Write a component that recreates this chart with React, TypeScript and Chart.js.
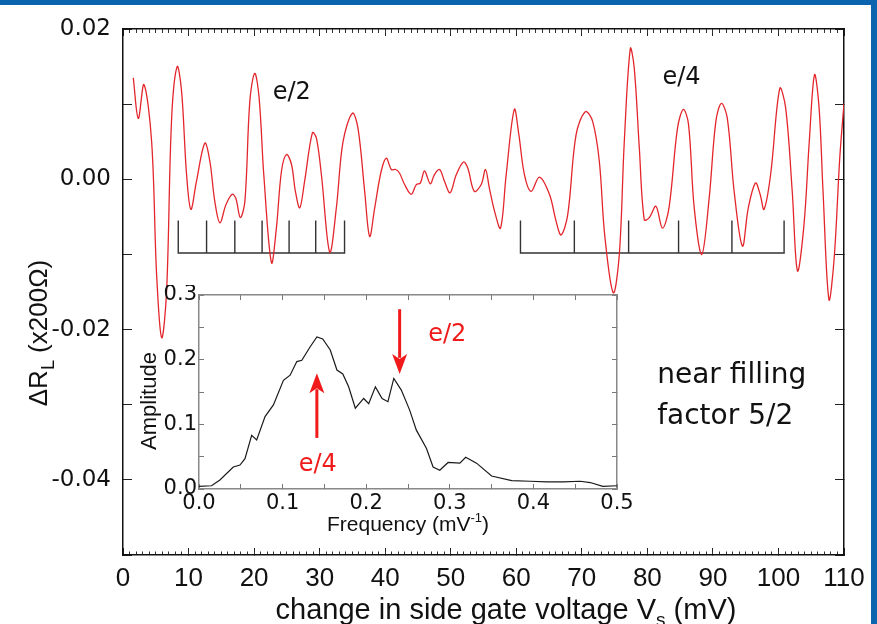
import React, { useEffect, useRef } from 'react';
import { Chart, registerables } from 'chart.js';

Chart.register(...registerables);

// ---------------- data ----------------
const gateVoltage = [
  1.57, 2.33, 3.2, 4.37, 5.13, 5.9, 6.65, 7.42, 8.27, 8.94, 9.7, 10.36, 11.2, 12.49, 13.25, 14.0,
  14.78, 15.7, 16.65, 17.2, 17.9, 18.6, 19.35, 20.1, 20.77, 21.48, 22.65, 23.4, 24.18, 24.94, 25.7,
  26.3, 26.97, 27.7, 28.9, 29.5, 30.27, 31.54, 32.55, 33.57, 35.0, 35.85, 36.87, 37.63, 38.4, 39.4,
  40.18, 40.94, 41.6, 42.2, 42.96, 43.98, 44.75, 45.36, 46.0, 46.88, 47.5, 48.3, 49.06, 49.9, 50.84,
  51.95, 52.6, 53.6, 54.65, 55.3, 55.9, 56.7, 57.6, 58.46, 59.7, 60.4, 61.25, 62.27, 63.53, 65.06,
  66.08, 66.84, 67.85, 69.12, 70.54, 71.65, 72.67, 73.5, 74.8, 75.72, 76.48, 77.4, 78.0, 78.77,
  79.53, 80.3, 81.3, 82.3, 83.3, 84.6, 85.5, 86.28, 87.15, 88.3, 89.43, 90.45, 91.3, 92.2, 93.24,
  94.5, 95.4, 96.5, 97.2, 97.8, 98.8, 100.2, 101.1, 102.1, 102.9, 103.9, 104.7, 105.5, 106.2, 106.8,
  107.7, 108.5, 109.35, 110.0,
];
const deltaRL = [
  0.0135, 0.0081, 0.0126, 0.005, -0.0127, -0.0211, -0.0149, 0.0081, 0.015, 0.0117, 0.0006, -0.004,
  -0.0003, 0.0048, 0.0024, -0.0029, -0.0058, -0.0034, -0.002, -0.0025, -0.0051, -0.0029, 0.0104,
  0.0141, 0.0108, 0.0006, -0.0111, -0.0065, 0.0011, 0.0033, 0.002, -0.0016, -0.0038, -0.0003, 0.0062,
  0.0055, 0.0006, -0.0097, -0.0038, 0.005, 0.0088, 0.0068, -0.0016, -0.0076, -0.0038, 0.0011, 0.0028,
  0.0013, 0.0013, 0.0008, -0.0007, -0.002, -0.0007, -0.0005, 0.0011, -0.0006, 0.0006, 0.0013, -0.0003,
  -0.0018, 0.0006, 0.0023, 0.0015, -0.0016, -0.0007, 0.0013, -0.0012, -0.0043, -0.0065, 0.0006,
  0.0093, 0.0059, 0.0006, -0.0016, 0.0003, -0.002, -0.0056, -0.0074, -0.0047, 0.0059, 0.009, 0.0077,
  0.0024, -0.0075, -0.0151, -0.01, 0.005, 0.0174, 0.0148, 0.0042, -0.0054, -0.0051, -0.0036, -0.0065,
  -0.0038, 0.0068, 0.0093, 0.0073, -0.0038, -0.01, -0.0025, 0.0077, 0.0101, 0.0081, -0.0016, -0.0089,
  -0.0038, -0.0005, -0.002, -0.004, 0.0006, 0.0121, 0.0095, -0.0016, -0.0122, -0.006, 0.005, 0.0139,
  0.0095, -0.0016, -0.016, -0.0105, 0.0028, 0.0101,
];

const frequency = [
  0.0, 0.015, 0.025, 0.041, 0.049, 0.055, 0.063, 0.069, 0.079, 0.089, 0.101, 0.109, 0.117, 0.123,
  0.133, 0.141, 0.148, 0.157, 0.165, 0.172, 0.179, 0.187, 0.197, 0.203, 0.211, 0.219, 0.226, 0.233,
  0.242, 0.252, 0.26, 0.272, 0.28, 0.288, 0.298, 0.312, 0.319, 0.332, 0.35, 0.374, 0.396, 0.416,
  0.436, 0.456, 0.468, 0.483, 0.5,
];
const amplitude = [
  0.004, 0.005, 0.014, 0.034, 0.037, 0.047, 0.083, 0.076, 0.112, 0.13, 0.168, 0.176, 0.197, 0.199,
  0.22, 0.235, 0.232, 0.215, 0.184, 0.178, 0.158, 0.125, 0.14, 0.132, 0.158, 0.14, 0.135, 0.171,
  0.153, 0.122, 0.091, 0.063, 0.034, 0.029, 0.041, 0.04, 0.049, 0.04, 0.02, 0.013, 0.012, 0.011,
  0.011, 0.012, 0.01, 0.004, 0.005,
];

// period combs drawn under the trace
const e2CombPositions = [8.43, 12.75, 17.06, 21.22, 25.34, 29.4, 33.8];
const e4CombPositions = [60.64, 68.86, 77.14, 84.76, 92.9, 100.86];
const combTopValue = -0.0055;
const combBaseValue = -0.0098;

// tick labels
const mainYTickLabels = ['0.02', '0.00', '-0.02', '-0.04'];
const insetTickLabels = ['0.0', '0.1', '0.2', '0.3', '0.4', '0.5'];

// inset arrows: [frequency, start amplitude, tip amplitude]
const e4Arrow = [0.141, 0.079, 0.179];
const e2Arrow = [0.24, 0.278, 0.178];

// ---------------- styling ----------------
const FONT_SANS = "'Liberation Sans', Arial, sans-serif";
const FONT_WIDE = "'DejaVu Sans', 'Liberation Sans', sans-serif";
const FONT_NARROW = "'Liberation Sans Narrow', 'Liberation Sans', Arial, sans-serif";
const RED = '#e3262c';
const BLUE = '#0a64ae';

function combPoints(ticks: number[]) {
  const pts: { x: number; y: number }[] = [];
  ticks.forEach((t, i) => {
    if (i > 0) pts.push({ x: t, y: combBaseValue });
    pts.push({ x: t, y: combTopValue });
    pts.push({ x: t, y: combBaseValue });
  });
  return pts;
}

type Part = { text: string; size: number; dy: number };
function drawRich(ctx: CanvasRenderingContext2D, parts: Part[], family: string, x: number, y: number) {
  const widths = parts.map((p) => {
    ctx.font = `${p.size}px ${family}`;
    return ctx.measureText(p.text).width;
  });
  const total = widths.reduce((a, b) => a + b, 0);
  let cx = x - total / 2;
  ctx.textAlign = 'left';
  ctx.textBaseline = 'alphabetic';
  parts.forEach((p, i) => {
    ctx.font = `${p.size}px ${family}`;
    ctx.fillText(p.text, cx, y + p.dy);
    cx += widths[i];
  });
}

function drawArrow(ctx: CanvasRenderingContext2D, x: number, y0: number, y1: number) {
  const dir = y1 > y0 ? 1 : -1;
  const headLen = 20;
  const half = 7.5;
  ctx.beginPath();
  ctx.moveTo(x, y0);
  ctx.lineTo(x, y1 - dir * headLen * 0.8);
  ctx.stroke();
  ctx.beginPath();
  ctx.moveTo(x, y1);
  ctx.lineTo(x - half, y1 - dir * headLen);
  ctx.lineTo(x, y1 - dir * headLen * 0.75);
  ctx.lineTo(x + half, y1 - dir * headLen);
  ctx.closePath();
  ctx.fill();
}

// fix an axis box to an exact size and remove its label overflow padding
function fixSize(horizontal: boolean, size: number) {
  return (s: any) => {
    if (horizontal) s.height = size;
    else s.width = size;
    s.paddingTop = 0;
    s.paddingBottom = 0;
    s.paddingLeft = 0;
    s.paddingRight = 0;
  };
}

const mainDecor = {
  id: 'mainDecor',
  afterDraw(chart: any) {
    const ctx: CanvasRenderingContext2D = chart.ctx;
    const xs = chart.scales.x;
    const ys = chart.scales.y;
    ctx.save();
    ctx.fillStyle = '#111';
    ctx.textBaseline = 'middle';
    ctx.textAlign = 'center';
    ctx.font = `24px ${FONT_WIDE}`;
    ctx.fillText('e/2', xs.getPixelForValue(25.75), ys.getPixelForValue(0.01155));
    ctx.fillText('e/4', xs.getPixelForValue(85.2), ys.getPixelForValue(0.01345));
    ctx.textAlign = 'left';
    ctx.font = `28px ${FONT_WIDE}`;
    ctx.fillText('near filling', xs.getPixelForValue(81.5), ys.getPixelForValue(-0.0262));
    ctx.fillText('factor 5/2', xs.getPixelForValue(81.5), ys.getPixelForValue(-0.0316));

    // x axis title
    drawRich(
      ctx,
      [
        { text: 'change in side gate voltage V', size: 29, dy: 0 },
        { text: 's', size: 19, dy: 7 },
        { text: ' (mV)', size: 29, dy: 0 },
      ],
      FONT_SANS,
      506,
      619
    );
    // y axis title (rotated)
    ctx.save();
    ctx.translate(47, 333);
    ctx.rotate(-Math.PI / 2);
    drawRich(
      ctx,
      [
        { text: 'ΔR', size: 26, dy: 0 },
        { text: 'L', size: 18, dy: 7 },
        { text: ' (x200Ω)', size: 26, dy: 0 },
      ],
      FONT_SANS,
      0,
      0
    );
    ctx.restore();
    ctx.restore();
  },
};

const insetDecor = {
  id: 'insetDecor',
  beforeDraw(chart: any) {
    const { ctx, chartArea } = chart;
    ctx.save();
    ctx.fillStyle = '#ffffff';
    ctx.fillRect(chartArea.left, chartArea.top, chartArea.right - chartArea.left, chartArea.bottom - chartArea.top);
    ctx.restore();
  },
  afterDraw(chart: any) {
    const ctx: CanvasRenderingContext2D = chart.ctx;
    const xs = chart.scales.x;
    const ys = chart.scales.y;
    ctx.save();
    ctx.strokeStyle = '#f01a1a';
    ctx.fillStyle = '#f01a1a';
    ctx.lineWidth = 3;
    [e4Arrow, e2Arrow].forEach((a) => {
      drawArrow(ctx, xs.getPixelForValue(a[0]), ys.getPixelForValue(a[1]), ys.getPixelForValue(a[2]));
    });
    ctx.font = `24px ${FONT_WIDE}`;
    ctx.textAlign = 'center';
    ctx.textBaseline = 'middle';
    ctx.fillText('e/4', xs.getPixelForValue(0.142), ys.getPixelForValue(0.037));
    ctx.fillText('e/2', xs.getPixelForValue(0.297), ys.getPixelForValue(0.238));

    ctx.fillStyle = '#111';
    drawRich(
      ctx,
      [
        { text: 'Frequency (mV', size: 21, dy: 0 },
        { text: '-1', size: 13, dy: -9 },
        { text: ')', size: 21, dy: 0 },
      ],
      FONT_SANS,
      298,
      246
    );
    ctx.save();
    ctx.translate(46, 116);
    ctx.rotate(-Math.PI / 2);
    drawRich(ctx, [{ text: 'Amplitude', size: 22, dy: 0 }], FONT_SANS, 0, 0);
    ctx.restore();
    ctx.restore();
  },
};

function hiddenAxis(position: string, min: number, max: number, step: number, tick: number, color: string, border: boolean, size: number, weight = 0, borderColor = '#111', borderWidth = 1.5) {
  const horizontal = position === 'top' || position === 'bottom';
  return {
    type: 'linear',
    position,
    min,
    max,
    weight,
    ticks: { display: false, stepSize: step },
    grid: { drawOnChartArea: false, drawTicks: true, tickLength: tick, color, lineWidth: 1 },
    border: { display: border, color: borderColor, width: borderWidth },
    afterFit: fixSize(horizontal, size),
  };
}

export default function App() {
  const mainRef = useRef<HTMLCanvasElement>(null);
  const insetRef = useRef<HTMLCanvasElement>(null);

  useEffect(() => {
    const mainChart = new Chart(mainRef.current as HTMLCanvasElement, {
      type: 'line',
      data: {
        datasets: [
          {
            data: gateVoltage.map((v, i) => ({ x: v, y: deltaRL[i] })),
            borderColor: RED,
            borderWidth: 1.3,
            pointRadius: 0,
            tension: 0.35,
            fill: false,
            xAxisID: 'x',
            yAxisID: 'y',
          },
          {
            data: combPoints(e2CombPositions),
            borderColor: '#333',
            borderWidth: 1.4,
            pointRadius: 0,
            tension: 0,
            fill: false,
            xAxisID: 'x',
            yAxisID: 'y',
          },
          {
            data: combPoints(e4CombPositions),
            borderColor: '#333',
            borderWidth: 1.4,
            pointRadius: 0,
            tension: 0,
            fill: false,
            xAxisID: 'x',
            yAxisID: 'y',
          },
        ],
      },
      options: {
        responsive: false,
        animation: false,
        events: [],
        layout: { padding: { left: 0, top: 29, right: 33, bottom: 0 } },
        plugins: { legend: { display: false }, tooltip: { enabled: false } },
        scales: {
          x: {
            type: 'linear',
            position: 'bottom',
            min: 0,
            max: 110,
            weight: 1,
            ticks: {
              stepSize: 10,
              autoSkip: false,
              maxRotation: 0,
              padding: 15,
              color: '#111',
              font: { family: FONT_NARROW, size: 26 },
            },
            grid: { drawOnChartArea: false, tickLength: -7, color: '#222', lineWidth: 1 },
            border: { display: true, color: '#111', width: 1.5 },
            afterFit: fixSize(true, 69),
          },
          xMinor: hiddenAxis('bottom', 0, 110, 1, -3.5, '#333', false, 0, 0),
          xTop: hiddenAxis('top', 0, 110, 10, -7, '#222', true, 0, 0),
          xTopMinor: hiddenAxis('top', 0, 110, 1, -4, '#333', false, 0, 1),
          y: {
            type: 'linear',
            position: 'left',
            min: -0.05,
            max: 0.02,
            ticks: {
              stepSize: 0.01,
              autoSkip: false,
              padding: 21,
              color: '#111',
              font: { family: FONT_WIDE, size: 23 },
              callback: (v: any) => {
                const s = (Math.round(Number(v) * 100) / 100).toFixed(2);
                return mainYTickLabels.includes(s) ? s : '';
              },
            },
            grid: { drawOnChartArea: false, tickLength: -9, color: '#222', lineWidth: 1 },
            border: { display: true, color: '#111', width: 1.5 },
            afterFit: fixSize(false, 123),
          },
          yRight: hiddenAxis('right', -0.05, 0.02, 0.01, -9, '#222', true, 0, 0),
        },
      } as any,
      plugins: [mainDecor],
    });

    const insetChart = new Chart(insetRef.current as HTMLCanvasElement, {
      type: 'line',
      data: {
        datasets: [
          {
            data: frequency.map((f, i) => ({ x: f, y: amplitude[i] })),
            borderColor: '#1a1a1a',
            borderWidth: 1.2,
            pointRadius: 0,
            tension: 0,
            fill: false,
            xAxisID: 'x',
            yAxisID: 'y',
          },
        ],
      },
      options: {
        responsive: false,
        animation: false,
        events: [],
        layout: { padding: { left: 0, top: 10, right: 33, bottom: 0 } },
        plugins: { legend: { display: false }, tooltip: { enabled: false } },
        scales: {
          x: {
            type: 'linear',
            position: 'bottom',
            min: 0,
            max: 0.5,
            ticks: {
              stepSize: 0.05,
              autoSkip: false,
              maxRotation: 0,
              padding: 7,
              color: '#111',
              font: { family: FONT_WIDE, size: 21 },
              callback: (v: any) => {
                const s = (Math.round(Number(v) * 100) / 100).toFixed(2);
                const lbl = (Math.round(Number(v) * 10) / 10).toFixed(1);
                return s.endsWith('0') && insetTickLabels.includes(lbl) ? lbl : '';
              },
            },
            grid: { drawOnChartArea: false, tickLength: -5, color: '#777', lineWidth: 1 },
            border: { display: true, color: '#888', width: 1.5 },
            afterFit: fixSize(true, 51),
          },
          xTop: hiddenAxis('top', 0, 0.5, 0.05, -5, '#777', true, 0, 0, '#888', 1.5),
          y: {
            type: 'linear',
            position: 'left',
            min: 0,
            max: 0.3,
            ticks: {
              stepSize: 0.05,
              autoSkip: false,
              padding: 7,
              color: '#111',
              font: { family: FONT_WIDE, size: 21 },
              callback: (v: any) => {
                const s = (Math.round(Number(v) * 100) / 100).toFixed(2);
                const lbl = (Math.round(Number(v) * 10) / 10).toFixed(1);
                return s.endsWith('0') && insetTickLabels.includes(lbl) ? lbl : '';
              },
            },
            grid: { drawOnChartArea: false, tickLength: -5, color: '#777', lineWidth: 1 },
            border: { display: true, color: '#888', width: 1.5 },
            afterFit: fixSize(false, 89),
          },
          yRight: hiddenAxis('right', 0, 0.3, 0.05, -5, '#777', true, 0, 0, '#888', 1.5),
        },
      } as any,
      plugins: [insetDecor],
    });

    return () => {
      mainChart.destroy();
      insetChart.destroy();
    };
  }, []);

  return (
    <div
      style={{
        position: 'fixed',
        left: 0,
        top: 0,
        width: 877,
        height: 624,
        background: '#ffffff',
        overflow: 'hidden',
      }}
    >
      <canvas ref={mainRef} width={877} height={624} style={{ position: 'absolute', left: 0, top: 0, display: 'block' }} />
      <canvas ref={insetRef} width={540} height={255} style={{ position: 'absolute', left: 110, top: 285, display: 'block' }} />
      <div style={{ position: 'absolute', left: 0, top: 0, width: 877, height: 5, background: BLUE }} />
      <div style={{ position: 'absolute', right: 0, top: 0, width: 6, height: 624, background: BLUE }} />
    </div>
  );
}
